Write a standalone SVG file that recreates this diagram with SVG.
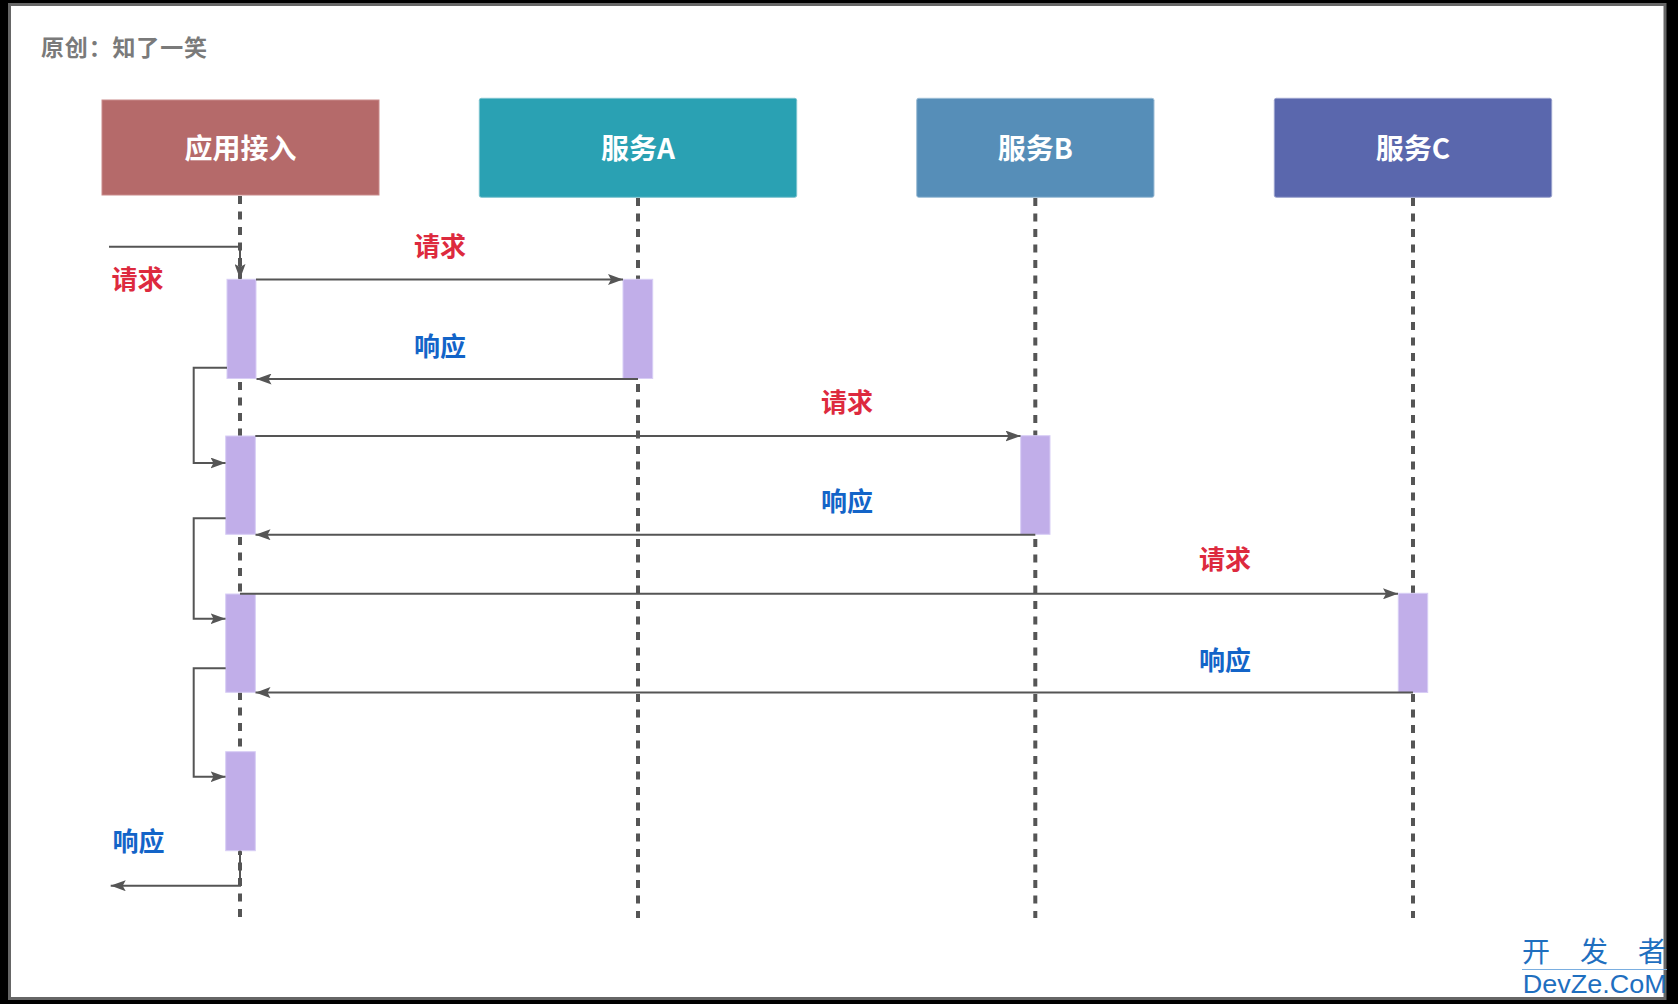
<svg xmlns="http://www.w3.org/2000/svg" width="1678" height="1004" viewBox="0 0 1678 1004">
  <defs>
    <style>
      .node-text { font-family: "Noto Sans CJK SC", "Liberation Sans", sans-serif; font-weight: bold; font-size: 28px; fill: #ffffff; text-anchor: middle; }
      .req { font-family: "Noto Sans CJK SC", "Liberation Sans", sans-serif; font-weight: bold; font-size: 26px; fill: #dd2a3e; text-anchor: middle; }
      .resp { font-family: "Noto Sans CJK SC", "Liberation Sans", sans-serif; font-weight: bold; font-size: 26px; fill: #1364c8; text-anchor: middle; }
      .lifeline { stroke: #555555; stroke-width: 4; stroke-dasharray: 8 7.5; fill: none; }
      .act { fill: #c1aee9; stroke: #d8cdf5; stroke-width: 1; }
      .msg { stroke: #555555; stroke-width: 2; fill: none; }
      .wm { font-family: "Noto Sans CJK SC", "Liberation Sans", sans-serif; fill: #1f6fbf; }
    </style>
    <marker id="arrow" viewBox="0 0 15 11" refX="15" refY="5.5" markerWidth="15" markerHeight="11" markerUnits="userSpaceOnUse" orient="auto">
      <path d="M0,0 L15,5.5 L0,11 L3,5.5 Z" fill="#555555"/>
    </marker>
  </defs>

  <!-- frame -->
  <rect x="0" y="0" width="1678" height="1004" fill="#000000"/>
  <rect x="9.5" y="4.5" width="1655.5" height="994" fill="#ffffff" stroke="#666666" stroke-width="3"/>

  <text x="41" y="55.7" font-family="Noto Sans CJK SC, Liberation Sans, sans-serif" font-weight="bold" font-size="23" fill="#7a7a7a" textLength="166" lengthAdjust="spacing">原创：知了一笑</text>

  <!-- lifelines -->
  <g id="lifelines">
    <line class="lifeline" x1="240" y1="196" x2="240" y2="918"/>
    <line class="lifeline" x1="638" y1="198" x2="638" y2="918"/>
    <line class="lifeline" x1="1035.3" y1="198" x2="1035.3" y2="918"/>
    <line class="lifeline" x1="1413" y1="198" x2="1413" y2="918"/>
  </g>

  <!-- nodes -->
  <g id="node-app">
    <rect x="102" y="100" width="277" height="95" fill="#b56a6a" stroke="#c98a8a" stroke-width="1"/>
    <text class="node-text" x="240.5" y="159">应用接入</text>
  </g>
  <g id="node-a">
    <rect x="479.3" y="98.3" width="317.4" height="99" rx="2" fill="#2aa1b3" stroke="#7cc4cf" stroke-width="1"/>
    <text class="node-text" x="638" y="159">服务A</text>
  </g>
  <g id="node-b">
    <rect x="916.7" y="98.3" width="237.3" height="99" rx="2" fill="#568eb8" stroke="#9dbdd6" stroke-width="1"/>
    <text class="node-text" x="1035.3" y="159">服务B</text>
  </g>
  <g id="node-c">
    <rect x="1274.3" y="98.3" width="277.4" height="99" rx="2" fill="#5a67ad" stroke="#9aa2cd" stroke-width="1"/>
    <text class="node-text" x="1413" y="159">服务C</text>
  </g>

  <!-- activations -->
  <g id="activations">
    <rect id="act-app-1" class="act" x="227" y="279.3" width="29" height="99.2"/>
    <rect id="act-app-2" class="act" x="225.7" y="436" width="29.6" height="98.3"/>
    <rect id="act-app-3" class="act" x="225.7" y="594" width="29.6" height="98.3"/>
    <rect id="act-app-4" class="act" x="225.7" y="751.7" width="29.6" height="99"/>
    <rect id="act-a" class="act" x="623" y="279.3" width="29.7" height="99.2"/>
    <rect id="act-b" class="act" x="1020.7" y="435.7" width="29.3" height="98.6"/>
    <rect id="act-c" class="act" x="1398.3" y="593.3" width="29.4" height="99.2"/>
  </g>

  <!-- connectors -->
  <g id="connectors">
    <path class="msg" d="M109,246.7 H240 V279" marker-end="url(#arrow)"/>
    <path class="msg" d="M256,279.5 H623" marker-end="url(#arrow)"/>
    <path class="msg" d="M638,379 H256.5" marker-end="url(#arrow)"/>
    <path class="msg" d="M227,367.7 H193.7 V463 H225.5" marker-end="url(#arrow)"/>
    <path class="msg" d="M255.3,436 H1020.5" marker-end="url(#arrow)"/>
    <path class="msg" d="M1035.3,534.7 H255.5" marker-end="url(#arrow)"/>
    <path class="msg" d="M225.7,518.3 H193.7 V618.7 H225.5" marker-end="url(#arrow)"/>
    <path class="msg" d="M240,593.8 H1398" marker-end="url(#arrow)"/>
    <path class="msg" d="M1413,692.6 H255.5" marker-end="url(#arrow)"/>
    <path class="msg" d="M225.7,668.3 H193.7 V776.7 H225.5" marker-end="url(#arrow)"/>
    <path class="msg" d="M240,850.7 V885.7 H110.7" marker-end="url(#arrow)"/>
  </g>

  <!-- message labels -->
  <g id="labels">
    <text class="req" x="137.5" y="289.4">请求</text>
    <text class="req" x="440" y="256">请求</text>
    <text class="resp" x="440" y="355.5">响应</text>
    <text class="req" x="847" y="412.4">请求</text>
    <text class="resp" x="847" y="511">响应</text>
    <text class="req" x="1225" y="569.4">请求</text>
    <text class="resp" x="1225" y="670">响应</text>
    <text class="resp" x="138.5" y="851.4">响应</text>
  </g>

  <!-- watermark -->
  <g id="watermark">
    <text class="wm" x="1522" y="962" font-size="28" textLength="144" lengthAdjust="spacing">开 发 者</text>
    <line x1="1522" y1="969.5" x2="1667" y2="969.5" stroke="#7aaee0" stroke-width="1"/>
    <text x="1522.7" y="992.5" font-family="Liberation Sans, sans-serif" font-size="25" fill="#1f6fbf" textLength="144" lengthAdjust="spacingAndGlyphs">DevZe.CoM</text>
  </g>
</svg>
